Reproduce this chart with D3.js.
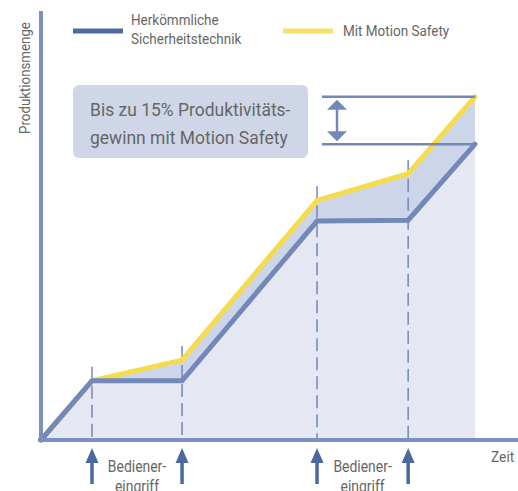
<!DOCTYPE html>
<html>
<head>
<meta charset="utf-8">
<script src="https://cdn.jsdelivr.net/npm/d3@7"></script>
<style>
  html, body { margin: 0; padding: 0; background: #fff; }
  svg { display: block; }
  text { font-family: Roboto, "Liberation Sans", sans-serif; fill: #666; }
</style>
</head>
<body>
<svg width="518" height="491"></svg>
<script>
// time points of the curves (relative time)
const times = [0, 11.75, 32.5, 63.6, 84.6, 100];
// production quantity, conventional safety = 100 at the end
const conventional = [0, 20, 20, 74, 74.3, 100];
const motionSafety = [0, 20, 27, 81, 90, 116];
// operator interventions: indices into times
const interventions = [[1, 2], [3, 4]];
const legendLabels = [["Herkömmliche", "Sicherheitstechnik"], ["Mit Motion Safety"]];
const boxLines = ["Bis zu 15% Produktivitäts-", "gewinn mit Motion Safety"];

const svg = d3.select("svg");

const axisColor = "#7b90be";
const blueLine = "#7288b9";
const yellowLine = "#f5dc4c";
const lightFill = "#e5e8f2";
const darkFill = "#cdd5e8";
const arrowColor = "#4a6a9f";

const x = d3.scaleLinear().domain([0, 100]).range([41, 475]);
const y = d3.scaleLinear().domain([0, 145]).range([440, 11]);

const pts = (vals) => times.map((t, i) => [t, vals[i]]);

// condensed-looking text: squeeze glyphs horizontally
function addText(tx, ty, str, size, squeeze, anchor = "start") {
  return svg.append("text")
    .attr("transform", `translate(${tx},${ty}) scale(${squeeze},1)`)
    .attr("text-anchor", anchor)
    .attr("font-size", size)
    .text(str);
}

// fills
const areaBelow = d3.area().x((d) => x(d[0])).y0(y(0)).y1((d) => y(d[1]));
svg.append("path")
  .attr("d", areaBelow(pts(conventional)))
  .attr("fill", lightFill);

const areaBetween = d3.area()
  .x((d, i) => x(times[i]))
  .y0((d, i) => y(conventional[i]))
  .y1((d, i) => y(motionSafety[i]));
svg.append("path")
  .attr("d", areaBetween(times))
  .attr("fill", darkFill);

// dashed guides at operator interventions
interventions.flat().forEach((i) => {
  svg.append("line")
    .attr("x1", x(times[i])).attr("x2", x(times[i]))
    .attr("y1", y(motionSafety[i]) - 14)
    .attr("y2", y(0))
    .attr("stroke", blueLine)
    .attr("stroke-width", 1.5)
    .attr("stroke-dasharray", "13,6");
});

const line = d3.line().x((d) => x(d[0])).y((d) => y(d[1]));

svg.append("path")
  .attr("d", line(pts(motionSafety)))
  .attr("fill", "none")
  .attr("stroke", yellowLine)
  .attr("stroke-width", 5)
  .attr("stroke-linecap", "round");

svg.append("path")
  .attr("d", line(pts(conventional)))
  .attr("fill", "none")
  .attr("stroke", blueLine)
  .attr("stroke-width", 5)
  .attr("stroke-linecap", "round");

// axes
svg.append("line")
  .attr("x1", 38).attr("x2", 518)
  .attr("y1", y(0)).attr("y2", y(0))
  .attr("stroke", axisColor).attr("stroke-width", 4);
svg.append("line")
  .attr("x1", x(0)).attr("x2", x(0))
  .attr("y1", y(145)).attr("y2", y(0) + 2)
  .attr("stroke", axisColor).attr("stroke-width", 4);

svg.append("text")
  .attr("transform", `translate(30,${y(145) + 67}) rotate(-90) scale(0.95,1)`)
  .attr("text-anchor", "middle")
  .attr("font-size", 14)
  .text("Produktionsmenge");

addText(491, 462, "Zeit", 15, 0.92);

// gain markers
const last = times.length - 1;
const gainY = [y(motionSafety[last]), y(conventional[last])];
gainY.forEach((gy) => {
  svg.append("line")
    .attr("x1", 322).attr("x2", x(times[last]))
    .attr("y1", gy).attr("y2", gy)
    .attr("stroke", blueLine).attr("stroke-width", 2.5);
});
const ax = 337;
svg.append("line")
  .attr("x1", ax).attr("x2", ax)
  .attr("y1", gainY[0] + 8).attr("y2", gainY[1] - 8)
  .attr("stroke", blueLine).attr("stroke-width", 2.5);
svg.append("path")
  .attr("d", `M${ax - 10},${gainY[0] + 13} L${ax},${gainY[0] + 3} L${ax + 10},${gainY[0] + 13} Z`)
  .attr("fill", blueLine);
svg.append("path")
  .attr("d", `M${ax - 10},${gainY[1] - 13} L${ax},${gainY[1] - 3} L${ax + 10},${gainY[1] - 13} Z`)
  .attr("fill", blueLine);

// annotation box
svg.append("rect")
  .attr("x", 73).attr("y", 85)
  .attr("width", 235).attr("height", 73)
  .attr("rx", 6)
  .attr("fill", "#cfd6e8");
boxLines.forEach((t, i) => addText(90, 116 + i * 28, t, 19, 0.92));

// legend
const legendX = [73, 283];
legendLabels.forEach((lines, k) => {
  svg.append("line")
    .attr("x1", legendX[k]).attr("x2", legendX[k] + 50)
    .attr("y1", 31).attr("y2", 31)
    .attr("stroke", k === 0 ? "#4c6c9f" : "#f7e06c")
    .attr("stroke-width", 5);
  lines.forEach((t, j) => {
    addText(legendX[k] + 58 + (k === 1 ? 2 : 0),
      lines.length === 1 ? 36 : 25 + j * 19, t, 15, 0.9);
  });
});

// operator intervention arrows and labels
interventions.forEach((pair) => {
  pair.forEach((i) => {
    const ix = x(times[i]);
    svg.append("line")
      .attr("x1", ix).attr("x2", ix)
      .attr("y1", 460).attr("y2", 484)
      .attr("stroke", arrowColor).attr("stroke-width", 3.5);
    svg.append("path")
      .attr("d", `M${ix - 6.5},${463} L${ix},${448} L${ix + 6.5},${463} Z`)
      .attr("fill", arrowColor);
  });
  const cx = (x(times[pair[0]]) + x(times[pair[1]])) / 2;
  ["Bediener-", "eingriff"].forEach((t, j) => {
    addText(cx, 472 + j * 20, t, 17, 0.82, "middle");
  });
});
</script>
</body>
</html>
